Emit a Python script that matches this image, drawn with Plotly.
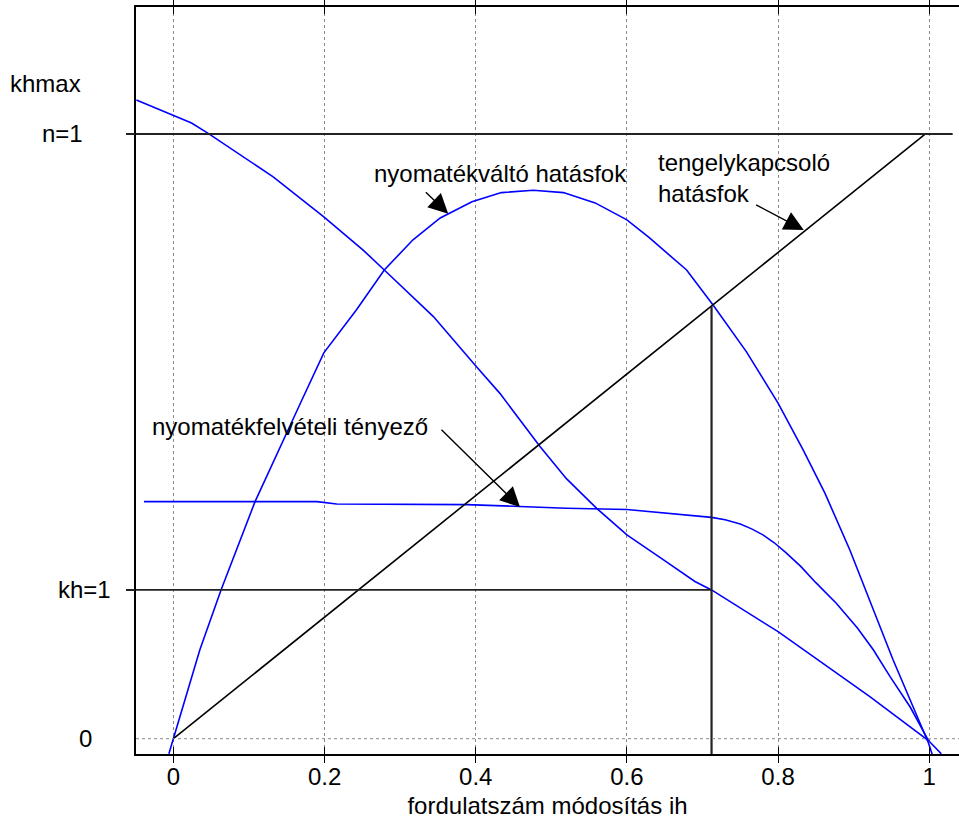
import plotly.graph_objects as go

# ---------------- data ----------------
# decreasing curve (khmax ... 0)
a_x = [-0.049, 0.0, 0.024, 0.046, 0.132, 0.199, 0.251, 0.279, 0.300, 0.344, 0.401, 0.432,
       0.485, 0.520, 0.560, 0.600, 0.648, 0.690, 0.712, 0.800, 0.921, 0.999, 1.016]
a_y = [1.056, 1.031, 1.018, 1.001, 0.929, 0.863, 0.808, 0.775, 0.750, 0.698, 0.615, 0.571,
       0.483, 0.430, 0.381, 0.337, 0.296, 0.260, 0.246, 0.177, 0.070, -0.003, -0.025]

# torque converter efficiency ("nyomatékváltó hatásfok")
b_x = [-0.006, 0.0, 0.035, 0.063, 0.108, 0.170, 0.199, 0.242, 0.279, 0.317, 0.353, 0.395,
       0.434, 0.476, 0.516, 0.558, 0.600, 0.630, 0.648, 0.679, 0.714, 0.758, 0.800, 0.833,
       0.862, 0.895, 0.952, 0.999, 1.004]
b_y = [-0.025, 0.0, 0.147, 0.246, 0.392, 0.560, 0.638, 0.709, 0.775, 0.825, 0.861, 0.888,
       0.903, 0.907, 0.903, 0.886, 0.858, 0.828, 0.808, 0.775, 0.717, 0.640, 0.555, 0.478,
       0.406, 0.312, 0.131, -0.007, -0.026]

# torque absorption factor ("nyomatékfelvételi tényező")
c_x = [-0.039, 0.19, 0.216, 0.339, 0.388, 0.458, 0.52, 0.6, 0.674, 0.712, 0.730, 0.750,
       0.765, 0.780, 0.795, 0.810, 0.830, 0.850, 0.877, 0.905, 0.926, 0.948, 0.975, 0.999]
c_y = [0.392, 0.392, 0.388, 0.388, 0.387, 0.384, 0.381, 0.379, 0.370, 0.366, 0.362, 0.355,
       0.347, 0.337, 0.324, 0.308, 0.285, 0.258, 0.224, 0.183, 0.147, 0.103, 0.052, -0.003]

# clutch efficiency ("tengelykapcsoló hatásfok")
d_x = [0.0, 0.995]
d_y = [0.0, 1.0]

# reference levels
n1 = 1.0
kh1 = 0.246
khmax = 1.084
ih_point = 0.712
ih_top = 0.715
n1_end = 1.031

x_ticks = [0, 0.2, 0.4, 0.6, 0.8, 1]
x_ticktext = ["0", "0.2", "0.4", "0.6", "0.8", "1"]

y_labels = ["0", "kh=1", "n=1", "khmax"]
y_label_vals = [0.0, kh1, n1, khmax]
y_label_shift = [-42, -23, -51, -53]

x_range = [-0.0495, 1.0394]
y_range = [-0.0253, 1.2099]

FONT = "Liberation Sans, Arial, sans-serif"
FS = 24
BLUE = "#0000FF"

fig = go.Figure()

for xs, ys in [(a_x, a_y), (b_x, b_y), (c_x, c_y)]:
    fig.add_trace(go.Scatter(x=xs, y=ys, mode="lines",
                             line=dict(color=BLUE, width=1.6), showlegend=False,
                             hoverinfo="skip"))

fig.add_trace(go.Scatter(x=d_x, y=d_y, mode="lines",
                         line=dict(color="black", width=1.6), showlegend=False))

# reference lines
fig.add_trace(go.Scatter(x=[x_range[0], n1_end], y=[n1, n1], mode="lines",
                         line=dict(color="#222222", width=2), showlegend=False))
fig.add_trace(go.Scatter(x=[x_range[0], ih_point], y=[kh1, kh1], mode="lines",
                         line=dict(color="#222222", width=1.8), showlegend=False))
fig.add_trace(go.Scatter(x=[ih_point, ih_point], y=[y_range[0], ih_top], mode="lines",
                         line=dict(color="#222222", width=2.2), showlegend=False))
fig.add_trace(go.Scatter(x=[x_range[0], x_range[1]], y=[0, 0], mode="lines",
                         line=dict(color="#888888", width=1, dash="dot"), showlegend=False))

# dummy trace for secondary y axis (short outside ticks at n=1 and kh=1)
fig.add_trace(go.Scatter(x=[None], y=[None], yaxis="y2", showlegend=False))

annotations = []
for t, v, s in zip(y_labels, y_label_vals, y_label_shift):
    annotations.append(dict(text=t, x=0, xref="paper", y=v, yref="y",
                            xanchor="right", yanchor="middle", xshift=s,
                            showarrow=False, font=dict(family=FONT, size=FS, color="black")))

annotations += [
    dict(text="nyomatékváltó hatásfok", x=0.433, y=0.935, xref="x", yref="y",
         xanchor="center", yanchor="middle", showarrow=False,
         font=dict(family=FONT, size=FS, color="black")),
    dict(text="tengelykapcsoló<br>hatásfok", x=0.639, y=0.927, xref="x", yref="y",
         xanchor="left", yanchor="middle", align="left", showarrow=False,
         font=dict(family=FONT, size=FS, color="black")),
    dict(text="nyomatékfelvételi tényező", x=-0.031, y=0.516, xref="x", yref="y",
         xanchor="left", yanchor="middle", showarrow=False,
         font=dict(family=FONT, size=FS, color="black")),
]

arrows = [
    ((0.3636, 0.868), (0.332, 0.906)),
    ((0.834, 0.841), (0.769, 0.884)),
    ((0.4585, 0.383), (0.3527, 0.5135)),
]
for (tx, ty), (sx, sy) in arrows:
    annotations.append(dict(text="", x=tx, y=ty, ax=sx, ay=sy, xref="x", yref="y",
                            axref="x", ayref="y", showarrow=True, arrowhead=2,
                            arrowsize=2.8, arrowwidth=1.4, arrowcolor="black",
                            standoff=0, startstandoff=0))

fig.update_layout(
    width=959, height=824,
    margin=dict(l=136, r=0, t=7, b=70),
    paper_bgcolor="white", plot_bgcolor="white",
    font=dict(family=FONT, size=FS, color="black"),
    showlegend=False,
    annotations=annotations,
    xaxis=dict(
        range=x_range, tickvals=x_ticks, ticktext=x_ticktext,
        showline=True, linecolor="black", linewidth=2, mirror="allticks",
        ticks="inside", ticklen=7, tickwidth=1, tickcolor="black",
        showgrid=True, gridcolor="#888888", gridwidth=1, griddash="dot",
        zeroline=False, tickfont=dict(family=FONT, size=FS),
        title=dict(text="fordulatszám módosítás ih", standoff=8,
                   font=dict(family=FONT, size=FS)),
    ),
    yaxis=dict(
        range=y_range, showline=True, linecolor="black", linewidth=2,
        showgrid=False, zeroline=False, showticklabels=False, ticks="",
    ),
    yaxis2=dict(
        range=y_range, overlaying="y", side="left", anchor="x",
        tickvals=[kh1, n1], ticks="outside", ticklen=9, tickwidth=2,
        tickcolor="#222222", showticklabels=False, showgrid=False,
        zeroline=False, showline=False,
    ),
)

fig.write_html("out.html", config={"displayModeBar": False})

# remove the default page margin so the figure sits at the window origin
with open("out.html", "r", encoding="utf-8") as f:
    html = f.read()
html = html.replace("<body>", '<body style="margin:0;padding:0;">', 1)
with open("out.html", "w", encoding="utf-8") as f:
    f.write(html)
